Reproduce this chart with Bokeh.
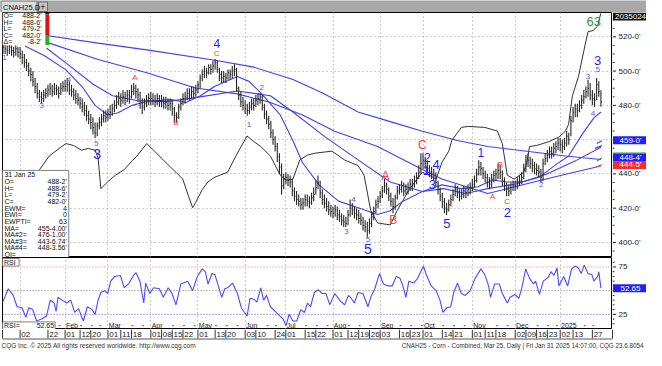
import pandas as pd
from bokeh.plotting import figure
from bokeh.models import Range1d, FixedTicker, Grid, Span
from bokeh.layouts import column, row
from bokeh.embed import file_html
from bokeh.resources import INLINE
from bokeh.core.properties import value

FONT = "Liberation Sans"

# ---------------- trading calendar (categories) ----------------
HOLIDAYS = ["2023-12-25", "2024-01-01", "2024-01-15", "2024-02-19", "2024-03-29",
            "2024-05-27", "2024-06-19", "2024-07-04", "2024-09-02", "2024-11-28",
            "2024-12-25", "2025-01-01", "2025-01-09", "2025-01-20"]
dates = [d for d in pd.bdate_range("2023-12-19", "2025-01-31")
         if d.strftime("%Y-%m-%d") not in HOLIDAYS]
N_PRE = 8
xi = [i - N_PRE for i in range(len(dates))]
pos = {d.strftime("%Y-%m-%d"): i - N_PRE for i, d in enumerate(dates)}

# ---------------- daily bars ----------------
high = [517, 516, 515, 516, 515, 514, 515, 514,
        514, 512, 510, 507, 505, 502, 500, 496, 493, 489, 488, 489, 490, 492, 493, 492, 493, 492, 491, 493, 494,
        495, 496, 494, 492, 490, 489, 487, 485, 484, 482, 480, 477, 475, 473, 470, 470, 473, 475, 477, 477,
        478, 480, 481, 483, 486, 488, 487, 489, 488, 489, 489, 492, 493, 492, 490, 488, 484, 484, 486, 487,
        488, 487, 486, 487, 486, 486, 485, 485, 484, 484, 483, 479, 476, 481, 484, 487, 488, 490, 490, 491, 491, 492,
        494, 498, 501, 503, 502, 504, 504, 506, 507, 506, 502, 500, 500, 499, 501, 501, 503, 504, 502, 491, 488, 485,
        483, 481, 482, 484, 484, 486, 487, 487, 486, 481, 477, 474, 471, 466, 462, 458, 452, 446, 440,
        441, 440, 439, 437, 432, 430, 428, 426, 426, 428, 428, 427, 429, 432, 436, 439, 436, 431, 428, 426, 424, 422,
        421, 422, 421, 419, 417, 416, 415, 419, 425, 423, 421, 420, 419, 417, 415, 413, 412, 414, 418, 421, 425, 427,
        430, 433, 437, 435, 432, 429, 426, 428, 433, 434, 436, 435, 434, 435, 437, 437, 439, 441, 445, 452,
        452, 450, 448, 445, 444, 443, 441, 436, 432, 429, 426, 423, 425, 428, 431, 434, 433, 431, 431, 433, 432, 434, 435,
        437, 439, 443, 448, 447, 444, 442, 440, 438, 440, 442, 443, 446, 445, 442, 438, 435, 434, 435, 436,
        436, 438, 439, 441, 446, 451, 452, 450, 449, 447, 446, 445, 443, 449, 452, 454, 456, 456, 458, 459, 461,
        461, 460, 461, 465, 464, 474, 479, 481, 481, 483, 486, 489, 491, 495, 493, 489, 487, 496, 494, 488.75]
low = [510, 510, 509, 510, 509, 508, 509, 508,
       507, 504, 502, 500, 497, 494, 491, 487, 484, 482, 481, 482, 484, 485, 486, 485, 486, 486, 484, 486, 488,
       488, 488, 486, 485, 483, 481, 480, 478, 476, 474, 471, 469, 466, 463, 461, 462, 466, 468, 470, 470,
       471, 472, 474, 476, 478, 480, 479, 481, 480, 482, 481, 484, 486, 484, 482, 478, 475, 477, 479, 480,
       480, 480, 479, 480, 479, 479, 478, 478, 477, 477, 474, 470, 470, 472, 477, 480, 481, 483, 483, 484, 484, 485,
       487, 490, 494, 496, 496, 498, 498, 499, 501, 499, 494, 493, 493, 493, 495, 495, 496, 497, 488, 483, 479, 477,
       475, 474, 475, 477, 477, 479, 480, 481, 477, 472, 469, 466, 461, 457, 453, 447, 440, 428, 431,
       434, 433, 432, 427, 424, 422, 421, 419, 419, 421, 421, 420, 422, 424, 428, 431, 426, 422, 420, 418, 416, 415,
       414, 415, 413, 412, 410, 409, 409, 410, 415, 416, 414, 413, 411, 410, 407, 406, 403, 405, 409, 413, 417, 420,
       423, 426, 429, 428, 424, 421, 417, 419, 425, 428, 429, 427, 428, 428, 430, 430, 432, 434, 437, 440,
       443, 443, 440, 438, 437, 436, 433, 428, 424, 420, 417, 416, 418, 421, 424, 427, 426, 424, 425, 426, 426, 427, 428,
       430, 432, 435, 439, 439, 437, 435, 432, 431, 432, 435, 436, 437, 437, 433, 430, 427, 427, 428, 430,
       430, 431, 433, 434, 437, 441, 444, 443, 441, 440, 439, 438, 435, 436, 445, 447, 449, 449, 450, 452, 454,
       453, 452, 454, 456, 457, 462, 470, 473, 473, 476, 478, 481, 484, 485, 483, 480, 479, 483, 485, 479.25]
close = [514, 513, 512, 514, 512, 511, 513, 511,
         510, 508, 505, 503, 500, 498, 494, 491, 487, 485, 484, 486, 487, 489, 490, 488, 490, 489, 487, 490, 491,
         491, 492, 489, 488, 486, 484, 483, 481, 479, 477, 474, 472, 470, 467, 464, 468, 470, 472, 474, 473,
         475, 476, 478, 480, 482, 484, 483, 485, 484, 486, 485, 488, 490, 488, 486, 482, 479, 481, 483, 484,
         484, 483, 482, 484, 482, 483, 481, 482, 480, 481, 478, 474, 473, 479, 481, 484, 485, 487, 486, 488, 487, 489,
         492, 496, 498, 500, 499, 502, 501, 503, 505, 501, 498, 496, 497, 496, 499, 498, 500, 501, 490, 486, 482, 480,
         478, 477, 479, 481, 480, 483, 484, 485, 479, 475, 472, 469, 464, 460, 456, 450, 444, 433, 437,
         438, 436, 435, 430, 427, 425, 424, 422, 423, 425, 424, 423, 426, 428, 432, 435, 429, 425, 423, 421, 419, 418,
         417, 419, 416, 415, 413, 412, 411, 416, 420, 419, 417, 416, 414, 413, 410, 409, 407, 411, 415, 418, 422, 424,
         427, 430, 433, 431, 427, 424, 421, 426, 430, 431, 433, 430, 431, 432, 434, 433, 436, 438, 441, 446,
         448, 446, 443, 441, 440, 439, 435, 431, 427, 424, 420, 419, 422, 425, 428, 431, 429, 427, 428, 430, 429, 431, 432,
         434, 436, 440, 444, 443, 440, 438, 435, 434, 437, 439, 440, 442, 441, 436, 433, 431, 430, 432, 433,
         433, 435, 436, 438, 443, 447, 448, 446, 445, 443, 442, 441, 438, 446, 449, 451, 453, 452, 455, 456, 458,
         457, 456, 458, 462, 460, 471, 476, 478, 477, 480, 483, 485, 488, 490, 486, 484, 483, 492, 488, 482]
assert len(high) == len(low) == len(close) == len(dates)

# ---------------- moving averages (bar index / price) ----------------
ma2_x = [2.3, 11.4, 21.4, 29.5, 35.0, 40.9, 45.5, 52.3, 59.1, 70.5, 77.3, 84.1, 90.9, 101.4, 106.8, 112.3,
         121.4, 127.3, 131.8, 139.5, 148.6, 157.7, 166.8, 172.7, 178.6, 187.7, 196.8, 205.9, 213.6, 220.5,
         227.3, 234.1, 242.3, 250.0, 255.9, 262.3, 267.7, 271.0]
ma2_y = [514.6, 509.0, 500.7, 490.0, 480.0, 474.4, 475.5, 480.0, 482.2, 483.4, 481.7, 485.6, 491.2, 496.8,
         494.0, 487.3, 474.4, 459.3, 446.5, 433.6, 424.1, 420.2, 416.3, 418.5, 424.1, 429.7, 433.6, 431.4,
         432.5, 436.4, 435.3, 435.3, 438.1, 445.4, 450.4, 463.2, 472.7, 476.1]
ma1_x = [12.3, 22.7, 34.1, 43.2, 54.5, 68.2, 81.8, 101.4, 116.8, 127.3, 142.3, 157.7, 172.7, 187.7, 197.7,
         207.7, 218.2, 231.8, 245.5, 259.1, 271.0]
ma1_y = [513.5, 503.5, 492.3, 485.6, 482.8, 482.2, 484.5, 488.4, 485.6, 476.1, 461.6, 448.2, 435.3, 429.7,
         431.4, 428.6, 431.4, 434.2, 439.8, 447.6, 455.5]
ma3_x = [12.3, 36.4, 59.1, 81.8, 101.4, 116.8, 131.8, 146.8, 166.8, 187.7, 196.8, 218.2, 236.4, 254.5, 271.0]
ma3_y = [516.9, 506.8, 499.0, 490.1, 486.7, 481.7, 474.4, 464.9, 456.0, 442.6, 437.0, 428.6, 434.2, 439.8, 444.6]
ma4_x = [12.3, 36.4, 59.1, 90.9, 109.1, 127.3, 140.9, 157.7, 172.7, 187.7, 204.5, 218.2, 236.4, 254.5, 271.0]
ma4_y = [520.8, 516.3, 512.4, 506.3, 502.3, 495.1, 487.3, 476.1, 470.5, 464.9, 459.3, 456.0, 453.2, 450.4, 448.4]

# projection marks at the right end
proj_x0 = [269.1, 268.2, 269.1, 268.2]
proj_y0 = [457.7, 454.9, 447.6, 443.7]
proj_x1 = [271.4, 271.4, 271.4, 271.4]
proj_y1 = [459.3, 456.5, 449.3, 445.4]
proj_c = ["#3f3ff0", "#3f3ff0", "#2ea02e", "#ff5050"]

# ---------------- Elliott oscillator (own 0..100 scale) ----------------
osc_x = [6.8, 9.1, 13.6, 18.2, 21.4, 25.0, 28.6, 31.8, 35.0, 36.4, 37.7, 40.9, 44.5, 48.6, 52.3, 54.5, 59.1,
         62.3, 65.9, 69.5, 72.7, 75.9, 78.6, 80.5, 81.8, 85.0, 87.7, 90.9, 96.8, 101.4, 105.9, 109.1, 112.3,
         116.8, 121.4, 124.1, 127.3, 130.5, 134.1, 137.7, 145.5, 151.4, 157.7, 160.5, 163.6, 166.8, 172.7,
         175.9, 181.8, 187.7, 190.9, 194.1, 196.8, 200.0, 201.4, 205.9, 209.1, 216.8, 222.7, 225.0, 225.9,
         227.3, 230.5, 235.0, 236.4, 237.7, 240.9, 246.8, 251.4, 254.5, 255.9, 257.7, 260.5, 263.6, 265.0,
         267.3, 269.5, 270.9]
osc_u = [32.8, 35.9, 41.4, 44.5, 46.5, 45.7, 43.8, 44.5, 43.8, 40.6, 28.1, 30.9, 33.6, 35.9, 39.5, 41.4, 46.5,
         43.8, 40.6, 37.5, 34.8, 32.0, 25.0, 20.3, 22.3, 27.7, 30.9, 32.8, 34.8, 42.6, 49.6, 47.3, 45.3,
         41.4, 33.6, 31.6, 32.0, 39.8, 41.8, 42.6, 43.4, 39.8, 37.5, 33.6, 19.1, 14.1, 13.3,
         19.1, 28.1, 34.8, 33.6, 32.0, 38.7, 43.4, 47.7, 53.1, 53.5, 53.1, 51.6, 46.5, 41.4,
         33.6, 32.0, 34.8, 38.7, 45.3, 45.7, 47.3, 49.2, 51.6, 54.3, 66.0, 73.8, 86.7, 92.2,
         92.6, 94.5, 99.6]

# ---------------- RSI ----------------
rsi_x = [-9.1, -7.7, -5.5, -3.2, -1.4, 0.9, 2.7, 4.1, 5.9, 7.7, 10.0, 12.3, 14.1, 15.9, 16.8, 17.7, 19.5,
         21.8, 23.6, 25.5, 27.3, 29.5, 31.4, 33.6, 35.0, 36.4, 37.7, 39.5, 40.9, 42.3, 44.1, 46.8, 48.6,
         50.9, 53.2, 54.1, 55.9, 57.7, 58.6, 60.5, 62.3, 65.0, 66.8, 69.1, 70.9, 72.7, 75.0, 78.2, 80.5,
         82.7, 85.0, 86.4, 87.7, 89.5, 90.9, 94.1, 95.5, 96.8, 99.1, 101.4, 103.2, 105.9, 107.3, 109.1,
         110.5, 112.3, 113.6, 115.0, 116.8, 119.5, 122.7, 124.1, 125.5, 127.3, 129.1, 130.9, 132.7, 134.1,
         135.5, 137.3, 139.1, 140.9, 142.7, 144.5, 146.8, 149.1, 151.4, 153.2, 154.5, 155.9, 157.7, 160.0,
         162.3, 163.6, 165.5, 167.7, 169.5, 171.8, 173.6, 175.5, 177.3, 178.6, 180.0, 181.4, 183.6, 185.5,
         188.2, 189.5, 191.8, 194.1, 195.9, 197.3, 199.1, 200.9, 202.3, 204.1, 205.9, 207.7, 210.0, 212.3,
         215.0, 216.8, 218.6, 219.5, 221.4, 223.6, 225.0, 227.3, 228.6, 230.9, 232.7, 234.1, 235.9, 237.7,
         239.5, 240.5, 242.3, 244.1, 246.4, 247.7, 249.1, 250.5, 251.4, 253.6, 255.5, 257.3, 259.1, 260.5,
         261.8, 263.2, 265.0, 266.8, 267.7, 269.5, 270.0, 271.0]
rsi_v = [35, 40, 52, 45, 33, 32, 22, 32, 30, 18, 20, 23, 40, 37, 28, 43, 40,
         37, 40, 27, 31, 18, 33, 30, 25, 40, 48, 50, 47, 60, 65, 66, 53,
         58, 67, 69, 60, 37, 58, 47, 53, 52, 43, 53, 47, 35, 57, 60, 50,
         65, 73, 70, 57, 68, 67, 43, 52, 53, 58, 47, 32, 23, 42, 41,
         38, 53, 40, 45, 33, 27, 20, 13, 25, 18, 18, 30, 27, 37,
         33, 48, 51, 47, 47, 35, 47, 40, 35, 45, 42, 37, 48, 47,
         33, 43, 52, 68, 57, 55, 55, 65, 63, 55, 43, 60, 58, 63,
         76, 67, 55, 50, 40, 27, 32, 33, 48, 58, 47, 45, 50, 63,
         73, 67, 55, 43, 57, 57, 47, 37, 43, 46, 42, 53, 73, 63,
         57, 60, 46, 60, 64, 70, 66, 74, 55, 65, 55, 73, 76, 74,
         68, 77, 68, 67, 60, 65, 70, 52.65]

# ---------------- Elliott wave labels ----------------
wave_x = [-7.3, 10.0, 22.7, 35.5, 35.9, 53.6, 72.7, 91.8, 91.8, 106.8, 112.7, 152.3, 155.5, 162.3, 162.3,
          170.5, 174.1, 187.7, 190.0, 189.5, 194.1, 192.3, 199.1, 215.0, 220.5, 224.1, 227.3, 227.3, 243.2,
          265.0, 267.3, 269.5, 269.5, 267.7]
wave_y = [507.9, 480.0, 495.1, 457.7, 451.5, 496.2, 469.9, 516.3, 510.2, 468.8, 490.6, 406.3, 425.3, 401.8,
          396.2, 438.7, 413.0, 457.1, 449.8, 442.0, 445.4, 433.6, 411.3, 452.6, 426.9, 445.4, 424.1, 417.4,
          433.6, 496.8, 475.5, 501.2, 506.3, 529.0]
wave_t = ["1", "3", "4", "5", "3", "A", "B", "4", "C", "1", "2", "3", "4", "5", "5",
          "A", "B", "C", "2", "1", "4", "3", "5", "1", "A", "B", "C", "2", "2",
          "3", "4", "5", "3", "63"]

BLUE_S, BLUE_B, RED, GREEN = "#5555ee", "#1f1fff", "#ff3b3b", "#2e9b2e"
wave_c = [BLUE_S, BLUE_S, BLUE_S, BLUE_S, BLUE_B, RED, RED, BLUE_B, RED, BLUE_S, BLUE_S, BLUE_S, BLUE_S,
          BLUE_S, BLUE_B, RED, RED, RED, BLUE_B, BLUE_B, BLUE_B, BLUE_B, BLUE_B, BLUE_B, RED, RED, RED,
          BLUE_B, BLUE_S, BLUE_S, BLUE_S, BLUE_S, BLUE_B, GREEN]
wave_s = ["8px", "8px", "8px", "8px", "14px", "8px", "8px", "12px", "8px", "8px", "8px", "8px", "8px",
          "8px", "14px", "12px", "12px", "12px", "13px", "13px", "13px", "13px", "13px", "12px", "8px",
          "8px", "8px", "13px", "8px", "8px", "8px", "8px", "13px", "13px"]

# ---------------- axis / date labels ----------------
price_ticks = [400, 420, 440, 460, 480, 500, 520]
price_labels = ["400-0'", "420-0'", "440-0'", "", "480-0'", "500-0'", "520-0'"]
flag_text = ["2035024", "459-0'", "448-4'", "444-5'"]
flag_pos = [531.8, 459.6, 449.6, 445.2]
flag_color = ["#111111", "#2020ff", "#2020ff", "#ff2a2a"]
rsi_ticks = [25, 50, 75]
rsi_labels = ["25", "", "75"]
rsi_last = 52.65

day_ticks = ["2024-01-02", "2024-01-22", "2024-02-01", "2024-02-12", "2024-02-20", "2024-03-01", "2024-03-11",
             "2024-03-18", "2024-04-01", "2024-04-08", "2024-04-15", "2024-04-22", "2024-05-01", "2024-05-13",
             "2024-05-20", "2024-06-03", "2024-06-10", "2024-06-24", "2024-07-01", "2024-07-15", "2024-07-22",
             "2024-08-01", "2024-08-12", "2024-08-19", "2024-08-26", "2024-09-03", "2024-09-16", "2024-09-23",
             "2024-10-01", "2024-10-14", "2024-10-21", "2024-11-01", "2024-11-11", "2024-11-18", "2024-12-02",
             "2024-12-09", "2024-12-16", "2024-12-23", "2025-01-02", "2025-01-13", "2025-01-27"]
month_dates = ["2024-02-01", "2024-03-01", "2024-04-01", "2024-05-01", "2024-06-03", "2024-07-01",
               "2024-08-01", "2024-09-03", "2024-10-01", "2024-11-01", "2024-12-02", "2025-01-02"]
month_names = ["Feb", "Mar", "Apr", "May", "Jun", "Jul", "Aug", "Sep", "Oct", "Nov", "Dec", "2025"]

# ---------------- geometry ----------------
FW, PH, RH, AW = 610, 245, 72, 34
X0, X1 = -8.2, 276.4
P0, P1 = 391.2, 534.2
R0, R1 = 9, 85
IPP = (X1 - X0) / FW


def rx(px):
    return X0 + (px - 2) * (X1 - X0) / 626


def ry(py):
    return P1 - (py - 13) * (P1 - P0) / 256


def rr(py):
    return R1 - (py - 270) * (R1 - R0) / 76


GRID = "#9a9a9a"
BAR = "#262626"
MA_C = "#4040ee"
TXT = "#111111"

day_idx = [pos[d] for d in day_ticks]
month_idx = [pos[d] for d in month_dates]
grid_idx = [pos["2024-01-02"]] + month_idx


def panel(height, yr):
    f = figure(frame_width=FW, frame_height=height, x_range=Range1d(X0, X1), y_range=yr,
               output_backend="svg", toolbar_location=None, x_axis_location=None, y_axis_location=None,
               min_border_left=2, min_border_right=0, min_border_top=0, min_border_bottom=0,
               background_fill_color="white", border_fill_color="white", outline_line_color="black")
    f.xgrid.visible = False
    f.ygrid.visible = False
    f.add_layout(Grid(dimension=0, ticker=FixedTicker(ticks=grid_idx), grid_line_color=GRID,
                      grid_line_dash="1 3"))
    return f


def scale_fig(height, yr, ticks, labels, minor, flags):
    """Right-hand price scale: ticks, tick labels and last-value flags."""
    f = figure(frame_width=AW, frame_height=height, x_range=Range1d(0, AW), y_range=yr,
               output_backend="svg", toolbar_location=None, x_axis_location=None, y_axis_location=None,
               min_border=0, background_fill_color="white", border_fill_color="white", outline_line_color=None)
    f.xgrid.visible = False
    f.ygrid.visible = False
    f.segment(x0=[0] * len(minor), y0=minor, x1=[2] * len(minor), y1=minor, line_color="#222222")
    f.segment(x0=[0] * len(ticks), y0=ticks, x1=[3.5] * len(ticks), y1=ticks, line_color="#222222")
    f.text(x=[6] * len(ticks), y=ticks, text=labels, text_font_size="8px", text_color="#222222",
           text_baseline="middle", text_font=value(FONT))
    ppx = (yr.end - yr.start) / height
    for txt, yv, bg in flags:
        f.quad(left=[0.5], right=[AW], top=[yv + 4.0 * ppx], bottom=[yv - 4.0 * ppx], fill_color=bg,
               line_color=None)
        f.text(x=[AW / 2 + 1], y=[yv], text=[txt], text_font_size="8px", text_color="white",
               text_baseline="middle", text_align="center", text_font=value(FONT))
    return f, ppx


# ================= price panel =================
p = panel(PH, Range1d(P0, P1))
p.extra_y_ranges = {"osc": Range1d(0, 100)}
p.add_layout(Grid(dimension=1, ticker=FixedTicker(ticks=price_ticks), grid_line_color=GRID, grid_line_dash="1 3"))

p.line(osc_x, osc_u, y_range_name="osc", line_color="#333333", line_width=1)
for mx, my in ((ma4_x, ma4_y), (ma3_x, ma3_y), (ma1_x, ma1_y), (ma2_x, ma2_y)):
    p.line(mx, my, line_color=MA_C, line_width=1.1)
p.segment(x0=proj_x0, y0=proj_y0, x1=proj_x1, y1=proj_y1, line_color=proj_c, line_width=1.2)

p.segment(x0=xi, y0=low, x1=xi, y1=high, line_color=BAR, line_width=1.1)
p.segment(x0=xi, y0=close, x1=[x + 0.5 for x in xi], y1=close, line_color=BAR, line_width=1)

p.text(x=wave_x, y=wave_y, text=wave_t, text_color=wave_c, text_font_size=wave_s,
       text_align="center", text_baseline="middle", text_font=value(FONT))

# OHLC legend box (top left)
p.quad(left=[rx(2)], right=[rx(45)], top=[ry(13)], bottom=[ry(47)], fill_color="white", line_color=None)
p.quad(left=[rx(46)] * 3, right=[rx(50)] * 3, top=[ry(13), ry(15), ry(37)], bottom=[ry(15), ry(37), ry(47)],
       fill_color=["#222222", "#e01010", "#20b020"], line_color=None)
lg_l = ["O=", "H=", "L=", "C=", "Δ="]
lg_r = ["488-2'", "488-6'", "479-2'", "482-0'", "-8-2'"]
lg_y = [ry(16.5 + i * 6.8) for i in range(5)]
p.text(x=[rx(3)] * 5, y=lg_y, text=lg_l, text_font_size="7px", text_color=TXT, text_baseline="middle",
       text_font=value(FONT))
p.text(x=[rx(42)] * 5, y=lg_y, text=lg_r, text_font_size="7px", text_color=TXT, text_baseline="middle",
       text_align="right", text_font=value(FONT))

# data window box
p.quad(left=[rx(2)], right=[rx(70)], top=[ry(178)], bottom=[ry(269)], fill_color="white",
       line_color="#808080", line_width=1)
dw_l = ["31  Jan  25", "O=", "H=", "L=", "C=", "EWM=", "EWI=", "EWPTI=", "MA=", "MA#2=", "MA#3=", "MA#4=", "OI="]
dw_r = ["", "488-2'", "488-6'", "479-2'", "482-0'", "4", "0", "63", "455-4.00'", "476-1.00'",
        "443-6.74'", "448-3.56'", ""]
dw_y = [ry(182.7 + i * 6.94) for i in range(13)]
p.text(x=[rx(4)] * 13, y=dw_y, text=dw_l, text_font_size="7px", text_color=TXT, text_baseline="middle",
       text_font=value(FONT))
p.text(x=[rx(68)] * 13, y=dw_y, text=dw_r, text_font_size="7px", text_color=TXT, text_baseline="middle",
       text_align="right", text_font=value(FONT))

minor_p = [v for v in range(395, 535, 5) if v not in price_ticks]
pa, pppx = scale_fig(PH, p.y_range, price_ticks, price_labels, minor_p,
                     list(zip(flag_text, flag_pos, flag_color)))
pa.segment(x0=[0.5], y0=[flag_pos[2] + 4.3 * pppx], x1=[AW], y1=[flag_pos[2] + 4.3 * pppx],
           line_color="#20b020", line_width=1.5)

# ================= RSI panel =================
rs = panel(RH, Range1d(R0, R1))
rs.x_range = p.x_range
rs.add_layout(Span(location=75, dimension="width", line_color="#ff7070", line_dash="1 2", line_width=1))
rs.add_layout(Span(location=50, dimension="width", line_color="#707070", line_dash="1 2", line_width=1))
rs.add_layout(Span(location=25, dimension="width", line_color="#5050ff", line_dash="1 2", line_width=1))
rs.line(rsi_x, rsi_v, line_color="#4b4bff", line_width=1.1)

# month row (bottom strip of RSI panel)
week_starts = [i - N_PRE for i in range(1, len(dates)) if dates[i].weekday() < dates[i - 1].weekday()]
dash_idx = [w for w in week_starts if w >= 0 and all(not (0 <= w - m < 7) for m in month_idx)]
rs.segment(x0=dash_idx, y0=[13] * len(dash_idx), x1=[w + 0.9 for w in dash_idx], y1=[13] * len(dash_idx),
           line_color="#555555", line_width=1)
rs.text(x=[m + 0.4 for m in month_idx], y=[13] * len(month_idx), text=month_names, text_font_size="7px",
        text_color="#222222", text_baseline="middle", text_font=value(FONT))

rs.quad(left=[rx(2)], right=[rx(19)], top=[rr(271)], bottom=[rr(279)], fill_color="white", line_color="#808080")
rs.text(x=[rx(3.5)], y=[rr(275)], text=["RSI"], text_font_size="7px", text_color=TXT, text_baseline="middle",
        text_font=value(FONT))
rs.quad(left=[rx(2)], right=[rx(56)], top=[rr(338)], bottom=[rr(346)], fill_color="white", line_color="#808080")
rs.text(x=[rx(3.5)], y=[rr(342)], text=["RSI="], text_font_size="7px", text_color=TXT, text_baseline="middle",
        text_font=value(FONT))
rs.text(x=[rx(55)], y=[rr(342)], text=[f"{rsi_last:.2f}"], text_font_size="7px", text_color=TXT,
        text_baseline="middle", text_align="right", text_font=value(FONT))

minor_r = [v for v in range(15, 85, 5) if v not in rsi_ticks]
ra, _ = scale_fig(RH, rs.y_range, rsi_ticks, rsi_labels, minor_r, [(f"{rsi_last:.2f}", rsi_last, "#2020ff")])

# ================= date row + footer =================
DXW, DXH = 646, 21
dx0 = X0 - 2 * IPP
dx1 = dx0 + DXW * IPP
dx = figure(frame_width=DXW, frame_height=DXH, x_range=Range1d(dx0, dx1), y_range=Range1d(DXH, 0),
            output_backend="svg", toolbar_location=None, x_axis_location=None, y_axis_location=None,
            min_border=0, background_fill_color="white", border_fill_color="white", outline_line_color=None)
dx.xgrid.visible = False
dx.ygrid.visible = False
sep = [X0] + day_idx + [X1]
dx.segment(x0=sep, y0=[0] * len(sep), x1=sep, y1=[9] * len(sep), line_color="#333333", line_width=1)
dx.segment(x0=[X0], y0=[9.5], x1=[X1], y1=[9.5], line_color="#555555", line_width=1)
dx.text(x=[d + 0.6 for d in day_idx], y=[4.8] * len(day_idx), text=[d[-2:] for d in day_ticks],
        text_font_size="8px", text_color="#222222", text_baseline="middle", text_font=value(FONT))
dx.text(x=[dx0 + IPP], y=[15.8], text=["CQG Inc. © 2025 All rights reserved worldwide. http://www.cqg.com"],
        text_font_size="6.5px", text_color="#333333", text_baseline="middle", text_font=value(FONT))
dx.text(x=[dx1 - 3 * IPP], y=[15.8],
        text=["CNAH25 - Corn - Combined, Mar 25, Daily | Fri Jan 31 2025 14:07:00, CQG 23.6.8054"],
        text_font_size="6.3px", text_color="#333333", text_baseline="middle", text_align="right",
        text_font=value(FONT))

# ================= tab bar =================
tb = figure(frame_width=646, frame_height=12, x_range=Range1d(0, 646), y_range=Range1d(12, 0),
            output_backend="svg", toolbar_location=None, x_axis_location=None, y_axis_location=None,
            min_border=0, background_fill_color="#a8a8a8", border_fill_color="#a8a8a8", outline_line_color=None)
tb.xgrid.visible = False
tb.ygrid.visible = False
tb.quad(left=[0.5, 38], right=[36.5, 47], top=[0.5, 1.5], bottom=[12, 11], fill_color=["#dcdcdc", "#c4c4c4"],
        line_color="#6a6a6a", line_width=1)
tb.text(x=[2.5, 42.5], y=[6.5, 6.3], text=["CNAH25,D", "+"], text_font_size=["7.5px", "9px"],
        text_color="#111111", text_baseline="middle", text_align=["left", "center"], text_font=value(FONT))

layout = column(tb, row(p, pa, spacing=0), row(rs, ra, spacing=0), dx, spacing=0)
open("out.html", "w").write(file_html(layout, INLINE))
